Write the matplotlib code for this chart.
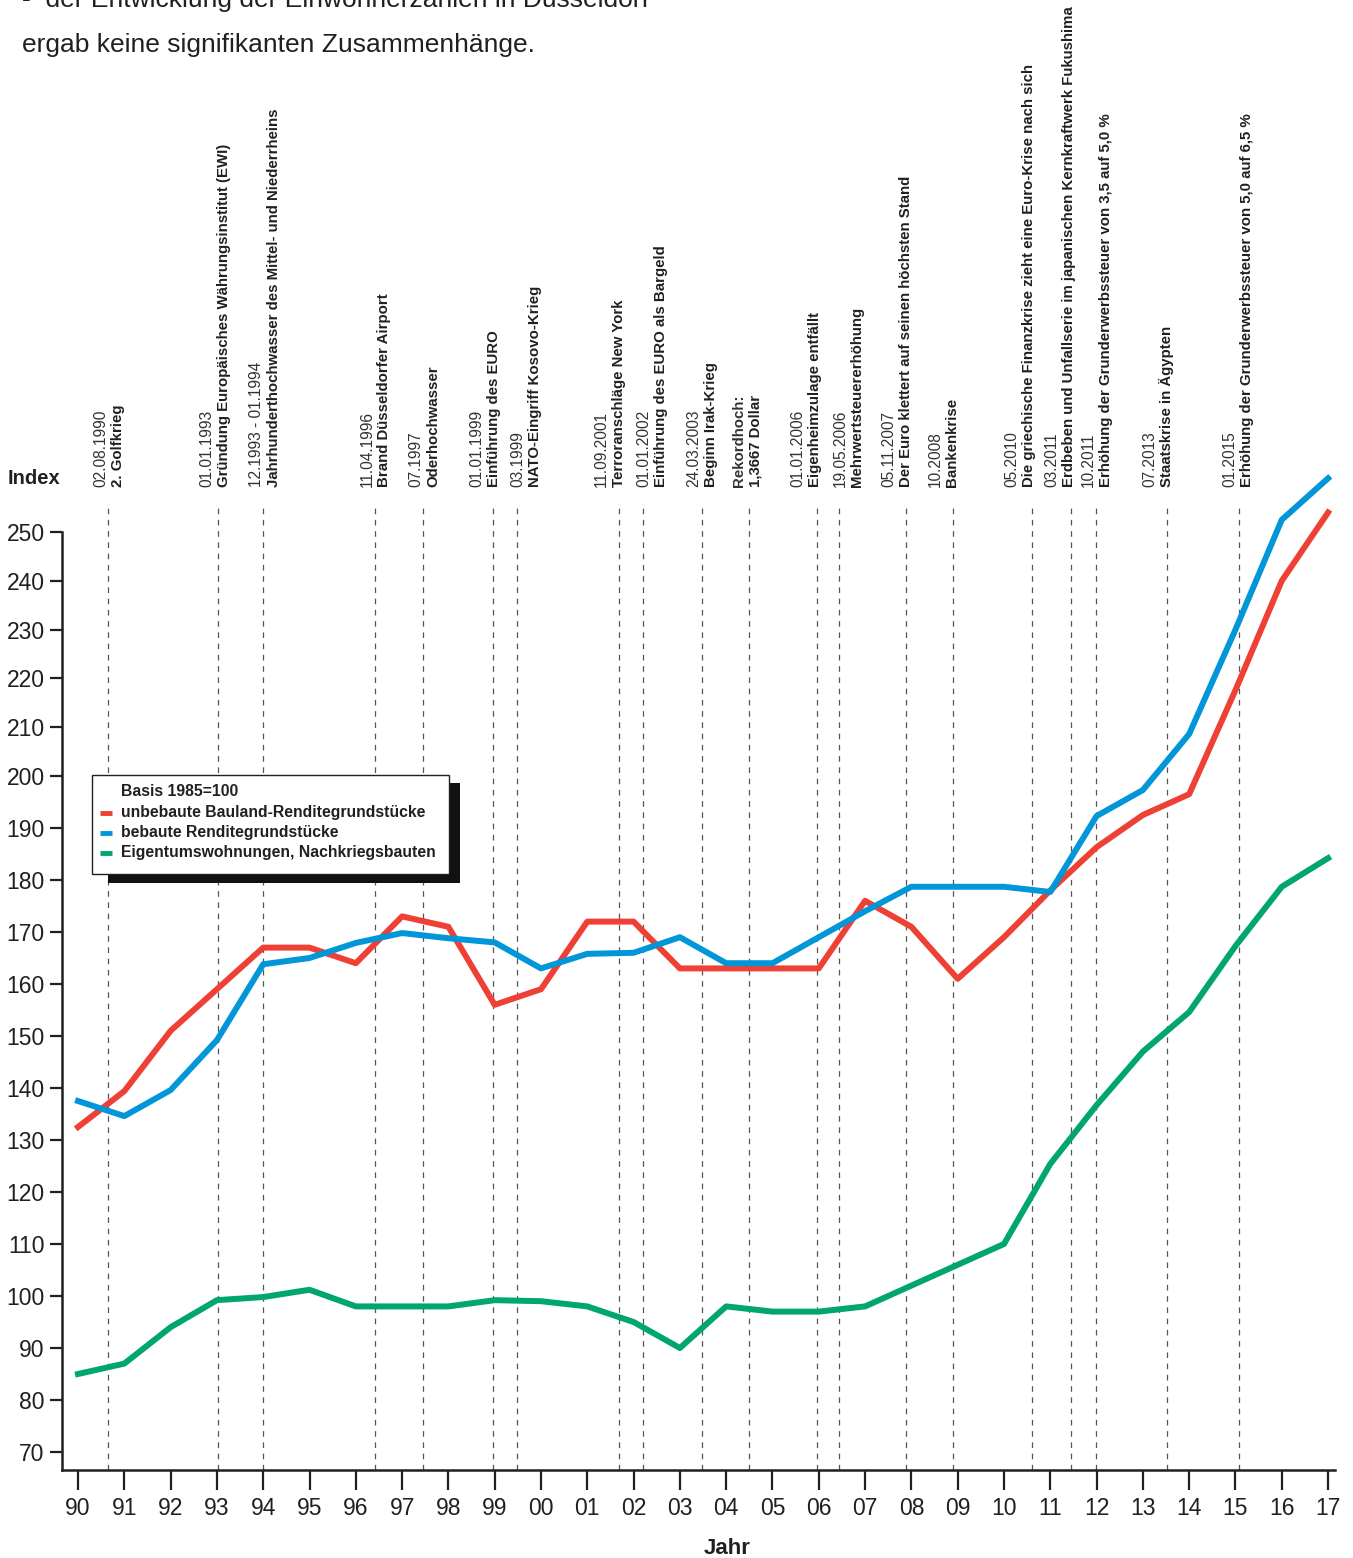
import numpy as np
import matplotlib
matplotlib.use("Agg")
import matplotlib.pyplot as plt
from matplotlib.patches import Rectangle
from matplotlib.lines import Line2D

# --- Daten ---
jahre = np.arange(1990, 2018)
jahr_labels = ["90", "91", "92", "93", "94", "95", "96", "97", "98", "99",
               "00", "01", "02", "03", "04", "05", "06", "07", "08", "09",
               "10", "11", "12", "13", "14", "15", "16", "17"]

unbebaut = [132.5, 139.4, 151, 159, 167, 167, 164, 173, 171, 156,
            159, 172, 172, 163, 163, 163, 163, 176, 171, 161,
            169, 178, 186.3, 192.5, 196.5, 217.6, 240, 254]
bebaut = [137.5, 134.6, 139.6, 149.2, 163.8, 165, 167.9, 169.8, 168.8, 168,
          163, 165.8, 166, 169, 164, 164, 169, 174, 178.7, 178.7,
          178.7, 177.7, 192.3, 197.3, 208.6, 230, 252.5, 261]
etw = [85, 87, 94, 99.2, 99.8, 101.2, 98, 98, 98, 99.2,
       99, 98, 95, 90, 98, 97, 97, 98, 102, 106,
       110, 125.4, 136.7, 147, 154.6, 167.3, 178.7, 184.2]

y_ticks = [70, 80, 90, 100, 110, 120, 130, 140, 150, 160, 170, 180, 190,
           200, 210, 220, 230, 240, 250]

# Ereignisse: Linie (Jahr), Datum, Text
ereignis_x = [1990.65, 1993.02, 1994.0, 1996.41, 1997.45, 1998.96, 1999.48,
              2001.68, 2002.2, 2003.48, 2004.49, 2005.96, 2006.44, 2007.88,
              2008.9, 2010.6, 2011.45, 2011.99, 2013.52, 2015.08]
ereignis_datum = ["02.08.1990", "01.01.1993", "12.1993 - 01.1994", "11.04.1996",
                  "07.1997", "01.01.1999", "03.1999", "11.09.2001", "01.01.2002",
                  "24.03.2003", "Rekordhoch:", "01.01.2006", "19.05.2006",
                  "05.11.2007", "10.2008", "05.2010", "03.2011", "10.2011",
                  "07.2013", "01.2015"]
ereignis_text = ["2. Golfkrieg",
                 "Gründung Europäisches Währungsinstitut (EWI)",
                 "Jahrhunderthochwasser des Mittel- und Niederrheins",
                 "Brand Düsseldorfer Airport",
                 "Oderhochwasser",
                 "Einführung des EURO",
                 "NATO-Eingriff Kosovo-Krieg",
                 "Terroranschläge New York",
                 "Einführung des EURO als Bargeld",
                 "Beginn Irak-Krieg",
                 "1,3667 Dollar",
                 "Eigenheimzulage entfällt",
                 "Mehrwertsteuererhöhung",
                 "Der Euro klettert auf seinen höchsten Stand",
                 "Bankenkrise",
                 "Die griechische Finanzkrise zieht eine Euro-Krise nach sich",
                 "Erdbeben und Unfallserie im japanischen Kernkraftwerk Fukushima",
                 "Erhöhung der Grunderwerbssteuer von 3,5 auf 5,0 %",
                 "Staatskrise in Ägypten",
                 "Erhöhung der Grunderwerbssteuer von 5,0 auf 6,5 %"]
# Position der Beschriftung (Mitte der fetten Zeile), Layout
label_x = [1990.86, 1993.15, 1994.23, 1996.61, 1997.67, 1998.98, 1999.87,
           2001.68, 2002.59, 2003.67, 2004.64, 2005.92, 2006.83, 2007.88,
           2008.88, 2010.54, 2011.40, 2012.20, 2013.52, 2015.25]

ROT = "#ee4035"
BLAU = "#0096d8"
GRUEN = "#00a66a"
DUNKEL = "#231f20"

W, H = 1353, 1558
fig = plt.figure(figsize=(W / 100, H / 100), dpi=100)
plt.rcParams['font.family'] = ['Liberation Sans', 'DejaVu Sans']

ax = fig.add_axes([62 / W, (H - 1470) / H, (1335 - 62) / W, 938 / H])


# y-Achse oben leicht gestaucht (wie im Original)
def fwd(v):
    v = np.asarray(v, dtype=float)
    return np.where(v <= 200, v * 5.2, 1040 + (v - 200) * 4.88)


def inv(p):
    p = np.asarray(p, dtype=float)
    return np.where(p <= 1040, p / 5.2, 200 + (p - 1040) / 4.88)


ax.set_yscale('function', functions=(fwd, inv))
ax.set_ylim(66.54, 250)
ax.set_xlim(1989.654, 2017.15)

for x in ereignis_x:
    ax.axvline(x, ymin=0, ymax=1.029, clip_on=False, color="#555555",
               lw=0.9, ls=(0, (4.5, 4.5)), zorder=1)

ax.plot(jahre, unbebaut, color=ROT, lw=4.3, clip_on=False, zorder=3)
ax.plot(jahre, bebaut, color=BLAU, lw=4.3, clip_on=False, zorder=3)
ax.plot(jahre, etw, color=GRUEN, lw=4.3, clip_on=False, zorder=3)

# Achsen
for s in ["top", "right"]:
    ax.spines[s].set_visible(False)
for s in ["left", "bottom"]:
    ax.spines[s].set_linewidth(1.8)
    ax.spines[s].set_color(DUNKEL)
ax.set_yticks(y_ticks)
ax.set_yticklabels([str(v) for v in y_ticks], fontsize=16.5, color=DUNKEL)
ax.yaxis.set_minor_locator(matplotlib.ticker.NullLocator())
ax.set_xticks(jahre)
ax.set_xticklabels(jahr_labels, fontsize=16.5, color=DUNKEL)
ax.tick_params(axis="y", length=8.6, width=1.6, pad=4, color=DUNKEL)
ax.tick_params(axis="x", length=14.4, width=1.6, pad=5, color=DUNKEL)

fig.text(8 / W, 1 - 479 / H, "Index", fontsize=14.5,
         fontweight="bold", va="center", ha="left", color=DUNKEL)
fig.text(727 / W, 1 - 1548 / H, "Jahr", fontsize=16,
         fontweight="bold", va="center", ha="center", color=DUNKEL)

# Ereignis-Beschriftungen
y_lab = (1470 - 487) / 938
for lx, d, t in zip(label_x, ereignis_datum, ereignis_text):
    fw = "bold" if d.endswith(":") else "normal"
    ax.annotate(d, xy=(lx, y_lab), xycoords=("data", "axes fraction"),
                xytext=(-17, 0), textcoords="offset pixels", rotation=90,
                ha="center", va="bottom", fontsize=11.2 if fw == "normal" else 10.8,
                fontweight=fw, color="#333333", annotation_clip=False)
    ax.annotate(t, xy=(lx, y_lab), xycoords=("data", "axes fraction"),
                xytext=(0, 0), textcoords="offset pixels", rotation=90,
                ha="center", va="bottom", fontsize=10.8, fontweight="bold",
                color=DUNKEL, annotation_clip=False)

# Text oben (erste Zeile im Original angeschnitten)
fig.text(22 / W, 1 - 0 / H, "-  der Entwicklung der Einwohnerzahlen in Düsseldorf",
         fontsize=19, va="center", ha="left", color=DUNKEL)
fig.text(22 / W, 1 - 45 / H, "ergab keine signifikanten Zusammenhänge.",
         fontsize=19, va="center", ha="left", color=DUNKEL)


# Legende mit Schatten
def px_rect(x0, y0, x1, y1, **kw):
    return Rectangle((x0 / W, 1 - y1 / H), (x1 - x0) / W, (y1 - y0) / H,
                     transform=fig.transFigure, **kw)


fig.patches.append(px_rect(108, 783, 460, 883, facecolor="#111111",
                           edgecolor="none", zorder=5))
fig.patches.append(px_rect(92, 775, 449, 874, facecolor="white",
                           edgecolor=DUNKEL, lw=1.0, zorder=6))
fig.text(121 / W, 1 - 792 / H, "Basis 1985=100", fontsize=11.3,
         fontweight="bold", va="center", ha="left", color=DUNKEL, zorder=7)
for i, (name, col) in enumerate([("unbebaute Bauland-Renditegrundstücke", ROT),
                                 ("bebaute Renditegrundstücke", BLAU),
                                 ("Eigentumswohnungen, Nachkriegsbauten", GRUEN)]):
    yy = 1 - (813 + 20 * i) / H
    fig.lines.append(Line2D([100 / W, 112 / W], [yy, yy], color=col, lw=3.5,
                            transform=fig.transFigure, zorder=7,
                            solid_capstyle="butt"))
    fig.text(121 / W, yy, name, fontsize=11.3, fontweight="bold",
             va="center", ha="left", color=DUNKEL, zorder=7)

fig.savefig("out.png", dpi=100)
